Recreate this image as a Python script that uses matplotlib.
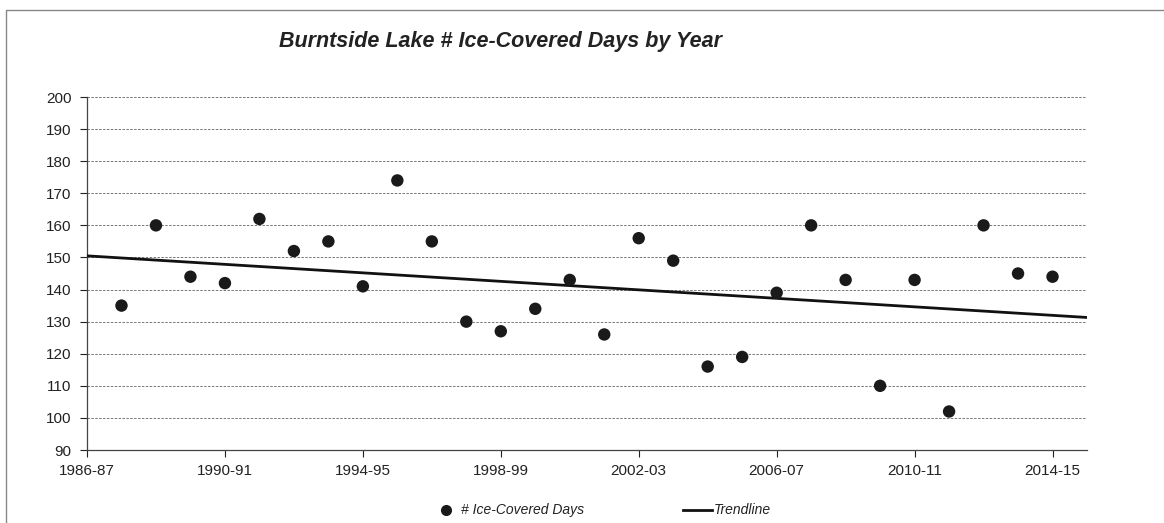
import matplotlib.pyplot as plt
from matplotlib.lines import Line2D
import numpy as np

plt.rcParams['font.family'] = ['Liberation Sans', 'DejaVu Sans']

# seasons 1987-88 .. 2014-15, position 0 on the axis is 1986-87
years = list(range(1987, 2015))
ice_days = [135, 160, 144, 142, 162, 152, 155, 141, 174, 155,
            130, 127, 134, 143, 126, 156, 149, 116, 119, 139,
            160, 143, 110, 143, 102, 160, 145, 144]
tick_labels = ["1986-87", "1990-91", "1994-95", "1998-99",
               "2002-03", "2006-07", "2010-11", "2014-15"]

# trendline series, read at the two ends of the axis (1986-87 and 2015-16)
trend_years = [1986, 2015]
trend_values = [150.5, 131.3]

x = np.array([yr - 1986 for yr in years])
y = np.array(ice_days)
xt = np.array([yr - 1986 for yr in trend_years])

fig = plt.figure(figsize=(11.64, 5.23), dpi=100)
ax = fig.add_axes([87/1164, 1 - 450/523, 1000/1164, 353/523])

ax.plot(xt, trend_values, color="#111111", linewidth=2.0, zorder=3)
ax.scatter(x, y, s=80, color="#1a1a1a", zorder=4, edgecolor="none")

ax.set_xlim(0, 29)
ax.set_ylim(90, 200)
ax.set_yticks(range(90, 201, 10))
ax.set_xticks(range(0, 29, 4))
ax.set_xticklabels(tick_labels)
ax.tick_params(labelsize=11, colors="#222222", length=5, width=0.8,
               direction="out")
ax.tick_params(axis="x", pad=5)
ax.tick_params(axis="y", pad=6)
ax.grid(axis="y", linestyle=(0, (2.5, 1.5)), color="#777777", linewidth=0.7)
ax.set_axisbelow(True)
for side in ["top", "right"]:
    ax.spines[side].set_visible(False)
for side in ["left", "bottom"]:
    ax.spines[side].set_color("#444444")
    ax.spines[side].set_linewidth(0.9)

fig.text(279/1164, 1 - 41/523, "Burntside Lake # Ice-Covered Days by Year",
         ha="left", va="center", fontsize=15.5, style="italic",
         weight="bold", color="#222222")

# legend drawn below the axis
ly = 1 - 510/523
fig.add_artist(Line2D([446/1164], [ly], marker="o", markersize=7,
                      color="#1a1a1a", linestyle="none"))
fig.text(461/1164, ly, "# Ice-Covered Days", ha="left", va="center",
         fontsize=10, style="italic", color="#222222")
fig.add_artist(Line2D([683/1164, 712/1164], [ly, ly],
                      color="#111111", linewidth=2.0))
fig.text(714/1164, ly, "Trendline", ha="left", va="center",
         fontsize=10, style="italic", color="#222222")

# chart frame (top and left edges)
fig.add_artist(Line2D([6/1164, 6/1164, 1], [0, 1 - 10/523, 1 - 10/523],
                      color="#888888", linewidth=1.0))

plt.savefig("out.png", dpi=100)
